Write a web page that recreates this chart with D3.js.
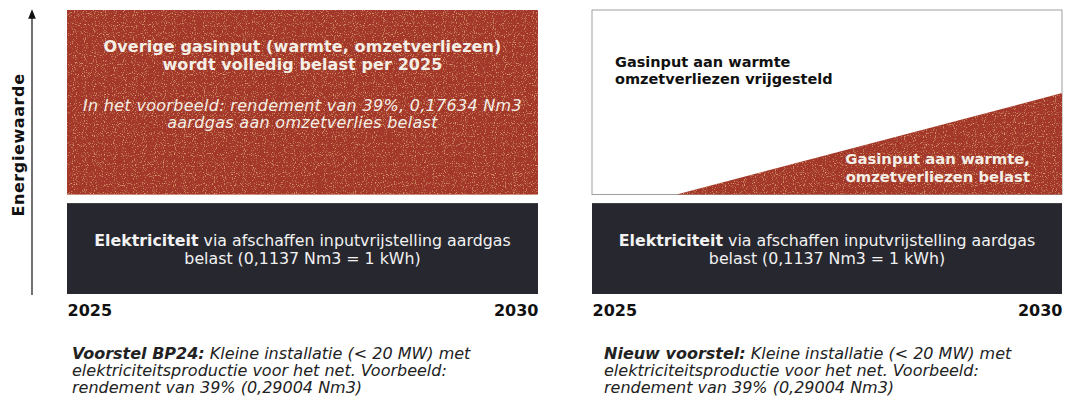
<!DOCTYPE html>
<html>
<head>
<meta charset="utf-8">
<script src="https://cdn.jsdelivr.net/npm/d3@7"></script>
<style>
  body { margin: 0; background: #fff; }
  svg { display: block; font-family: "DejaVu Sans", Verdana, sans-serif; }
</style>
</head>
<body>
<script>
// years on the x axis of each panel
var years = [2025, 2030];
// energy bands (Energiewaarde, arbitrary units 0..100)
var bandNames = ['elektriciteit', 'overig'];
var bandFrom = [0, 35];
var bandTo = [32, 100];
// new proposal: share of the other gas input that gets taxed, growing over time
var phaseYears = [2025.9, 2030];
var taxedShare = [0, 0.55];

var redColor = '#a3382a',
    darkColor = '#27272f',
    lightText = '#f4efe6';

var w = 1069, h = 407;
var svg = d3.select('body').append('svg').attr('width', w).attr('height', h);

// speckle texture for the scanned look
var defs = svg.append('defs');
var f = defs.append('filter').attr('id', 'speckle').attr('x', 0).attr('y', 0).attr('width', 1).attr('height', 1);
f.append('feTurbulence').attr('type', 'fractalNoise').attr('baseFrequency', 0.9).attr('numOctaves', 1).attr('seed', 3).attr('result', 'n');
f.append('feColorMatrix').attr('in', 'n').attr('type', 'matrix')
  .attr('values', '0 0 0 0 0.82  0 0 0 0 0.42  0 0 0 0 0.2  4 0 0 0 -2.3').attr('result', 'spk');
f.append('feComposite').attr('in', 'spk').attr('in2', 'SourceGraphic').attr('operator', 'in').attr('result', 'spk2');
var fm = f.append('feMerge');
fm.append('feMergeNode').attr('in', 'SourceGraphic');
fm.append('feMergeNode').attr('in', 'spk2');

var y = d3.scaleLinear().domain([0, 100]).range([294, 10]);

// vertical axis arrow
defs.append('marker').attr('id', 'arrow').attr('viewBox', '0 0 10 10')
  .attr('refX', 5).attr('refY', 5).attr('markerWidth', 8).attr('markerHeight', 8)
  .attr('orient', 'auto-start-reverse')
  .append('path').attr('d', 'M0,1 L10,5 L0,9 Z').attr('fill', '#111');
svg.append('line')
  .attr('x1', 32).attr('x2', 32)
  .attr('y1', y(0) + 1).attr('y2', y(100) + 4)
  .attr('stroke', '#111').attr('stroke-width', 1.2)
  .attr('marker-end', 'url(#arrow)');
svg.append('text')
  .attr('transform', 'translate(24,' + (y(50) - 7) + ') rotate(-90)')
  .attr('text-anchor', 'middle')
  .attr('font-size', 16).attr('font-weight', 'bold').attr('fill', '#111')
  .attr('letter-spacing', 0.6)
  .text('Energiewaarde');

var panel = function(x0, x1, isNew) {
  var x = d3.scaleLinear().domain(d3.extent(years)).range([x0, x1]);
  var g = svg.append('g');
  var cx = (x0 + x1) / 2;

  // electricity band (both panels)
  g.append('rect')
    .attr('x', x(years[0])).attr('width', x(years[1]) - x(years[0]))
    .attr('y', y(bandTo[0])).attr('height', y(bandFrom[0]) - y(bandTo[0]))
    .attr('fill', darkColor);

  var elText = g.append('text')
    .attr('text-anchor', 'middle').attr('fill', '#f2f2f2').attr('font-size', 15.8)
    .attr('x', cx).attr('y', y(bandTo[0]) + 43);
  elText.append('tspan').attr('font-weight', 'bold').text('Elektriciteit');
  elText.append('tspan').text(' via afschaffen inputvrijstelling aardgas');
  g.append('text')
    .attr('text-anchor', 'middle').attr('fill', '#f2f2f2').attr('font-size', 15.8)
    .attr('x', cx).attr('y', y(bandTo[0]) + 61)
    .text('belast (0,1137 Nm3 = 1 kWh)');

  if (!isNew) {
    g.append('rect')
      .attr('x', x(years[0])).attr('width', x(years[1]) - x(years[0]))
      .attr('y', y(bandTo[1])).attr('height', y(bandFrom[1]) - y(bandTo[1]))
      .attr('fill', redColor).attr('filter', 'url(#speckle)');
    [['Overige gasinput (warmte, omzetverliezen)', 42], ['wordt volledig belast per 2025', 60]].forEach(function(d) {
      g.append('text').attr('x', cx).attr('y', y(bandTo[1]) + d[1])
        .attr('text-anchor', 'middle').attr('font-size', 16).attr('font-weight', 'bold')
        .attr('letter-spacing', 0.1)
        .attr('fill', lightText).text(d[0]);
    });
    [['In het voorbeeld: rendement van 39%, 0,17634 Nm3', 101], ['aardgas aan omzetverlies belast', 118]].forEach(function(d) {
      g.append('text').attr('x', cx).attr('y', y(bandTo[1]) + d[1])
        .attr('text-anchor', 'middle').attr('font-size', 16).attr('font-style', 'italic')
        .attr('letter-spacing', 0.3)
        .attr('fill', lightText).text(d[0]);
    });
  } else {
    g.append('rect')
      .attr('x', x(years[0])).attr('width', x(years[1]) - x(years[0]))
      .attr('y', y(bandTo[1])).attr('height', y(bandFrom[1]) - y(bandTo[1]))
      .attr('fill', '#fff').attr('stroke', '#888').attr('stroke-width', 0.8);
    var pts = phaseYears.map(function(d, i) { return { year: d, share: taxedShare[i] }; });
    var area = d3.area()
      .x(function(d) { return x(d.year); })
      .y0(y(bandFrom[1]))
      .y1(function(d) { return y(bandFrom[1] + d.share * (bandTo[1] - bandFrom[1])); });
    g.append('path').datum(pts).attr('d', area)
      .attr('fill', redColor).attr('filter', 'url(#speckle)');
    [['Gasinput aan warmte', 67], ['omzetverliezen vrijgesteld', 84]].forEach(function(d) {
      g.append('text').attr('x', x0 + 23).attr('y', d[1])
        .attr('font-size', 14.5).attr('font-weight', 'bold').attr('fill', '#111').text(d[0]);
    });
    [['Gasinput aan warmte,', 164], ['omzetverliezen belast', 182]].forEach(function(d) {
      g.append('text').attr('x', x1 - 32).attr('y', d[1]).attr('text-anchor', 'end')
        .attr('font-size', 14.8).attr('font-weight', 'bold').attr('fill', lightText).text(d[0]);
    });
  }

  // year labels
  var axis = d3.axisBottom(x).tickValues(years).tickSize(0).tickPadding(0).tickFormat(d3.format('d'));
  var ag = g.append('g').attr('transform', 'translate(0,' + (y(0) + 10) + ')').call(axis);
  ag.select('.domain').remove();
  ag.attr('font-family', null).attr('font-size', null);
  ag.selectAll('text')
    .attr('dy', null).attr('y', 12)
    .style('font-size', '16px').style('font-weight', 'bold').style('fill', '#111')
    .attr('text-anchor', function(d, i) { return i === 0 ? 'start' : 'end'; });
};

panel(67, 538, false);
panel(592, 1062, true);

// captions below the panels
var caption = function(x0, lead) {
  var lines = [
    [lead, ' Kleine installatie (< 20 MW) met'],
    ['', 'elektriciteitsproductie voor het net. Voorbeeld:'],
    ['', 'rendement van 39% (0,29004 Nm3)']
  ];
  lines.forEach(function(l, i) {
    var t = svg.append('text').attr('x', x0).attr('y', 359 + i * 17)
      .attr('font-size', 16).attr('font-style', 'italic').attr('fill', '#222');
    if (l[0]) t.append('tspan').attr('font-weight', 'bold').text(l[0]);
    t.append('tspan').text(l[1]);
  });
};
caption(72, 'Voorstel BP24:');
caption(604, 'Nieuw voorstel:');
</script>
</body>
</html>
